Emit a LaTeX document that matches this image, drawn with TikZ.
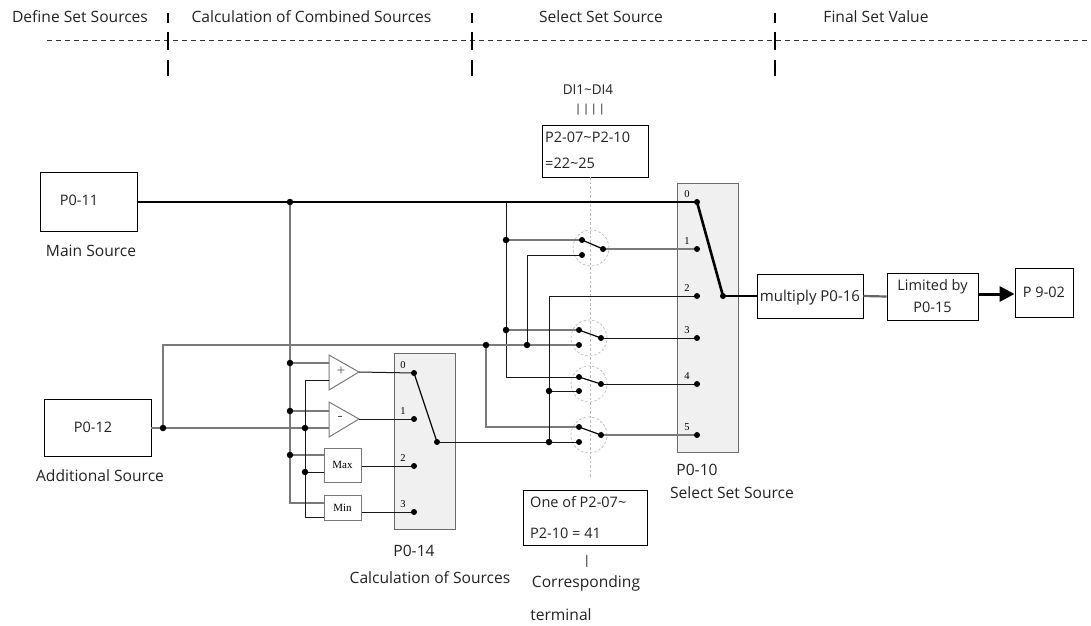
\documentclass[tikz,border=0pt]{standalone}
\usepackage{fontspec}
\setmainfont{Open Sans}
\newfontfamily\serifnum{Liberation Serif}
\usetikzlibrary{arrows.meta}
\definecolor{wiregray}{HTML}{7A7A7A}
\definecolor{blockfill}{HTML}{F0F0F0}
\definecolor{blockline}{HTML}{6A6A6A}
\definecolor{txt}{HTML}{222222}
\begin{document}
\begin{tikzpicture}[x=1pt,y=-1pt,
  lbl/.style={font=\fontsize{14.5}{17}\selectfont, inner sep=0pt, text=txt},
  biglbl/.style={font=\fontsize{15.6}{18}\selectfont, inner sep=0pt, text=txt},
  box/.style={draw=black, line width=0.9pt, inner sep=0pt, fill=white},
  gw/.style={draw=wiregray, line width=1.3pt},
  bw/.style={draw=black!90, line width=1pt},
  mainw/.style={draw=black, line width=2.6pt},
  dot/.style={circle, fill=black, inner sep=0pt, minimum size=6.5pt},
  sdot/.style={circle, fill=black, inner sep=0pt, minimum size=6pt},
  selbox/.style={draw=blockline, fill=blockfill, line width=0.9pt},
  num/.style={font=\serifnum\fontsize{10.5}{10.5}\selectfont, inner sep=0pt},
  opbox/.style={draw=wiregray, fill=white, line width=1pt, inner sep=0pt, font=\serifnum\fontsize{11}{11}\selectfont},
  swcirc/.style={draw=gray!55, dashed, line width=0.7pt, dash pattern=on 2.5pt off 2pt},
  hdrbar/.style={draw=black, line width=2pt}
]
\useasboundingbox (0,0) rectangle (1091,625);

% ---------------- header ----------------
\node[biglbl] (h1) at (80,17) {Define Set Sources};
\node[biglbl] (h2) at (311.5,17) {Calculation of Combined Sources};
\node[biglbl] (h3) at (601,17) {Select Set Source};
\node[biglbl] (h4) at (876,17) {Final Set Value};
\coordinate (dl) at (47,40);
\coordinate (dr) at (1091,40);
\draw[black!80, line width=1pt, dash pattern=on 5pt off 4pt] (dl) -- (dr);
\foreach \xx/\nm in {168/a,472/b,775/c}{
  \coordinate (t\nm1) at (\xx,13); \coordinate (t\nm2) at (\xx,23);
  \coordinate (t\nm3) at (\xx,32); \coordinate (t\nm4) at (\xx,50);
  \coordinate (t\nm5) at (\xx,60); \coordinate (t\nm6) at (\xx,76);
  \draw[hdrbar] (t\nm1) -- (t\nm2);
  \draw[hdrbar] (t\nm3) -- (t\nm4);
  \draw[hdrbar] (t\nm5) -- (t\nm6);
}

% ---------------- sources ----------------
\node[box, minimum width=97pt, minimum height=59pt] (p011) at (88.5,202) {};
\node[lbl] (p011t) at (79,200) {P0-11};
\node[biglbl] (mains) at (91,251) {Main Source};
\node[box, minimum width=107pt, minimum height=57pt] (p012) at (97.5,428) {};
\node[lbl] (p012t) at (93,427) {P0-12};
\node[biglbl] (adds) at (100,476) {Additional Source};

% ---------------- calculation block P0-14 ----------------
\node[selbox, minimum width=61pt, minimum height=176pt, inner sep=0pt] (p014) at (424.5,441) {};
\node[biglbl] (p014t) at (414,551) {P0-14};
\node[biglbl] (calcs) at (430,578) {Calculation of Sources};
\coordinate (c0) at (414,373);
\coordinate (c1) at (414,419);
\coordinate (c2) at (414,466);
\coordinate (c3) at (414,512);
\coordinate (cp) at (437,442);
\node[num] (n0) at (403,365) {0};
\node[num] (n1) at (403,411) {1};
\node[num] (n2) at (403,458) {2};
\node[num] (n3) at (403,504) {3};

% amplifiers
\coordinate (pa1) at (329,355); \coordinate (pa2) at (329,390); \coordinate (pat) at (359,372);
\coordinate (ma1) at (329,402); \coordinate (ma2) at (329,437); \coordinate (mat) at (359,419);
\draw[draw=wiregray, fill=white, line width=1pt] (pa1) -- (pat) -- (pa2) -- cycle;
\draw[draw=wiregray, fill=white, line width=1pt] (ma1) -- (mat) -- (ma2) -- cycle;
\node[font=\serifnum\fontsize{15}{15}\selectfont, inner sep=0pt, text=black!70] (plus) at (341,371) {+};
\node[font=\serifnum\fontsize{15}{15}\selectfont, inner sep=0pt, text=black!70] (minus) at (340,418) {-};
\node[opbox, minimum width=37pt, minimum height=34pt] (maxb) at (342.5,465) {Max};
\node[opbox, minimum width=37pt, minimum height=25pt] (minb) at (342.5,507.5) {Min};

% wires into calc
\coordinate (j290a) at (290,202);
\coordinate (j290b) at (290,363);
\coordinate (j290c) at (290,411);
\coordinate (j290d) at (290,455);
\coordinate (j290e) at (290,503);
\coordinate (j305a) at (305,380);
\coordinate (j305b) at (305,428);
\coordinate (j305c) at (305,472);
\coordinate (j305d) at (305,517);
\coordinate (j163) at (163,428);
\coordinate (k163) at (163,345);

\draw[gw] (j290a) -- (j290e) -- (j290e -| minb.west);
\draw[gw] (j290b) -- (j290b -| pa1);
\draw[gw] (j290c) -- (j290c -| ma1);
\draw[gw] (j290d) -- (j290d -| maxb.west);
\draw[bw] (j305a -| pa1) -- (j305a) -- (j305d) -- (j305d -| minb.west);
\draw[bw] (j305c) -- (j305c -| maxb.west);
\draw[gw] (p012.east) -- (j163) -- (j305b) -- (j305b -| ma1);

% outputs into P0-14
\draw[bw] (pat) -- (c0);
\draw[bw] (mat) -- (c1);
\draw[bw] (maxb.east |- c2) -- (c2);
\draw[bw] (minb.east |- c3) -- (c3);
\draw[black, line width=1.2pt] (c0) -- (cp);

% ---------------- selector P0-10 ----------------
\node[selbox, minimum width=61pt, minimum height=269pt, inner sep=0pt] (p010) at (707.5,317.5) {};
\node[biglbl] (p010t) at (697,470) {P0-10};
\node[biglbl] (selss) at (732,493) {Select Set Source};
\coordinate (s0) at (697,202);
\coordinate (s1) at (697,249);
\coordinate (s2) at (697,296);
\coordinate (s3) at (697,338);
\coordinate (s4) at (697,384);
\coordinate (s5) at (697,435);
\coordinate (sp) at (723,296);
\foreach \i/\yy in {0/194,1/241,2/288,3/330,4/376,5/427}{
  \node[num] (m\i) at (687,\yy) {\i};
}

% DI box and dashed control line
\node[font=\fontsize{13.5}{16}\selectfont, inner sep=0pt, text=txt] (di) at (588,90) {DI1\char`~DI4};
\node[font=\fontsize{11}{11}\selectfont, inner sep=0pt] (bars) at (590,110) {|\,|\,|\,|};
\node[box, minimum width=106pt, minimum height=52pt] (dibox) at (595,151) {};
\node[lbl, anchor=west] (dit1) at (545,137) {P2-07\char`~P2-10};
\node[lbl, anchor=west] (dit2) at (545,163) {=22\char`~25};
\coordinate (ctop) at (590,177);
\coordinate (cbot) at (590,478);
\draw[gray!55, line width=0.8pt, dash pattern=on 2.5pt off 2pt] (ctop) -- (cbot);

% switches
\foreach \nm/\cx/\cy in {w1/591/248, w2/589/338, w3/589/384, w4/589/435}{
  \node[swcirc, circle, minimum size=36pt, inner sep=0pt] (\nm) at (\cx,\cy) {};
}
\coordinate (w1a) at (582,240); \coordinate (w1b) at (582,255); \coordinate (w1p) at (603,249);
\coordinate (w2a) at (579,330); \coordinate (w2b) at (579,345); \coordinate (w2p) at (601,338);
\coordinate (w3a) at (579,377); \coordinate (w3b) at (579,391); \coordinate (w3p) at (601,384);
\coordinate (w4a) at (579,427); \coordinate (w4b) at (579,442); \coordinate (w4p) at (601,435);

% wires in select area
\coordinate (j506a) at (506,202);
\coordinate (j506b) at (506,240);
\coordinate (j506c) at (506,330);
\coordinate (j506d) at (506,377);
\coordinate (j486a) at (486,345);
\coordinate (j486b) at (486,427);
\coordinate (j527a) at (527,345);
\coordinate (j527b) at (527,255);
\coordinate (j549a) at (549,296);
\coordinate (j549b) at (549,391);
\coordinate (j549c) at (549,442);

\draw[bw] (j506a) -- (j506d) -- (w3a);
\draw[gw] (j506b) -- (w1a);
\draw[gw] (j506c) -- (w2a);
\draw[gw] (j163) -- (k163) -- (w2b);
\draw[gw] (j486a) -- (j486b) -- (w4a);
\draw[bw] (j527a) -- (j527b) -- (w1b);
\draw[bw] (s2) -- (j549a) -- (j549c) -- (w4b);
\draw[bw] (j549b) -- (w3b);
\draw[bw] (cp) -- (j549c);

% blades
\foreach \nm in {w1,w2,w3,w4}{
  \draw[black, line width=1.2pt] (\nm a) -- (\nm p);
}
% switch outputs
\draw[gw] (w1p) -- (s1);
\draw[bw] (w2p) -- (s3);
\draw[bw] (w3p) -- (s4);
\draw[gw] (w4p) -- (s5);

% main line and selector blade
\draw[mainw] (p011.east) -- (s0);
\draw[mainw] (s0) -- (sp);

% ---------------- final value ----------------
\node[box, minimum width=106pt, minimum height=44pt] (mult) at (810,296) {};
\node[font=\fontsize{15}{17}\selectfont, inner sep=0pt, text=txt] (multt) at (810,298) {multiply P0-16};
\node[box, minimum width=91pt, minimum height=47pt, align=center, font=\fontsize{14.5}{22}\selectfont, text=txt] (lim) at (932.5,296.5) {Limited by\\P0-15};
\node[box, minimum width=58pt, minimum height=49pt, font=\fontsize{14.5}{17}\selectfont, text=txt] (p902) at (1044,292.5) {P 9-02};
\draw[mainw] (sp) -- (mult.west);
\draw[draw=gray!80!black, line width=2.2pt] (mult.east) -- (lim.west);
\draw[black, line width=3pt, -{Triangle[length=15pt,width=15pt]}] ([yshift=2.5pt]lim.east) -- ([yshift=-1.5pt]p902.west);

% ---------------- bottom terminal box ----------------
\node[box, minimum width=124pt, minimum height=55pt] (tbox) at (585,517.5) {};
\node[lbl, anchor=west] (tb1) at (530,502) {One of P2-07\char`~};
\node[lbl, anchor=west] (tb2) at (530,533) {P2-10 = 41};
\node[font=\fontsize{12}{12}\selectfont, inner sep=0pt] (tbar) at (587,561) {|};
\node[biglbl] (corr) at (586,583) {Corresponding};
\node[biglbl] (term) at (561,615) {terminal};

% ---------------- dots ----------------
\foreach \p in {j290a,j290b,j290c,j290d,j305b,j305c,j163,j486a,j527a,j506b,j506c,j549b,j549c}{
  \node[dot] at (\p) {};
}
\foreach \p in {c0,c1,c2,c3,cp,s0,s1,s2,s3,s4,s5,sp,w1a,w1b,w1p,w2a,w2b,w2p,w3a,w3b,w3p,w4a,w4b,w4p}{
  \node[sdot] at (\p) {};
}
\end{tikzpicture}
\end{document}
